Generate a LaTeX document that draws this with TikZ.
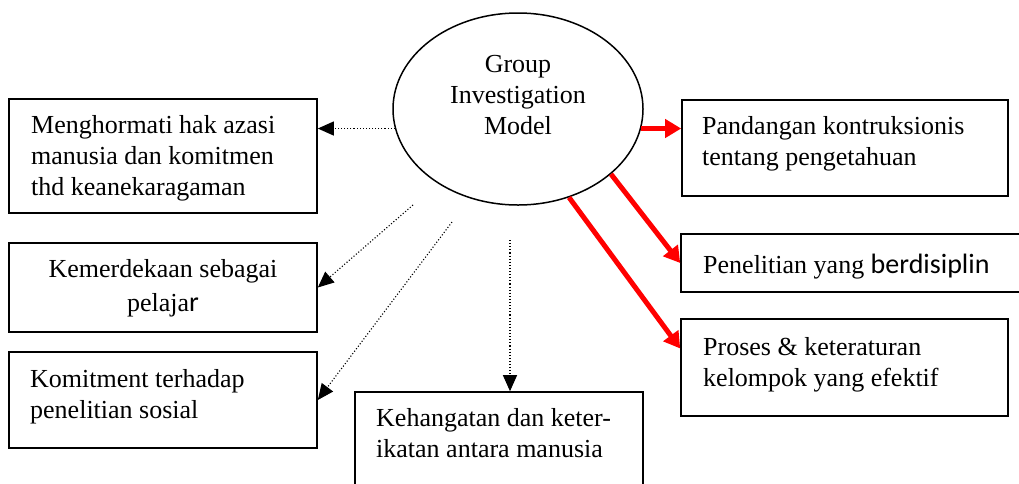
\documentclass[tikz,border=0pt]{standalone}
\usepackage{fontspec}
\setmainfont{Liberation Serif}
\newfontfamily\carlito{Carlito}
\usetikzlibrary{shapes.geometric,arrows.meta}
\tikzset{
  box/.style={draw, line width=1.6pt, rectangle, inner sep=0pt},
  oval/.style={draw, line width=1.5pt, ellipse, inner sep=0pt, minimum width=250pt, minimum height=192pt},
  txt/.style={inner sep=0pt, font=\fontsize{26}{31}\selectfont},
  dotarrow/.style={line width=1.1pt, dotted, -{Triangle[length=16pt,width=14pt]}},
  redarrow/.style={line width=5pt, red, -{Triangle[length=16pt,width=18pt]}}
}
\begin{document}
\begin{tikzpicture}[x=1pt,y=-1pt]
\useasboundingbox (0,0) rectangle (1019,483);
\clip (0,0) rectangle (1019,483);
\fill[white] (0,0) rectangle (1019,483);
% ellipse
\node[oval] (e) at (518,109) {};
\node[txt, anchor=north, align=center] (et) at (518,55) {Group\\Investigation\\Model};
% left boxes
\node[box, minimum width=308pt, minimum height=114pt] (b1) at (163,156) {};
\node[txt, anchor=north west, align=left] (t1) at (31,115) {Menghormati hak azasi\\manusia dan komitmen\\thd keanekaragaman};
\node[box, minimum width=308pt, minimum height=89pt] (b2) at (163,287.5) {};
\node[txt, anchor=north, align=center] (t2) at (163,259) {Kemerdekaan sebagai\\[3pt]pelaja{\carlito\fontsize{28}{31}\selectfont r}};
\node[box, minimum width=308pt, minimum height=96pt] (b3) at (163,400) {};
\node[txt, anchor=north west, align=left] (t3) at (30,369) {Komitment terhadap\\penelitian sosial};
\node[box, minimum width=288pt, minimum height=120pt] (b4) at (499,452) {};
\node[txt, anchor=north west, align=left] (t4) at (376,408) {Kehangatan dan keter-\\ikatan antara manusia};
% right boxes
\node[box, minimum width=326pt, minimum height=96pt] (r1) at (845,148) {};
\node[txt, anchor=north west, align=left] (u1) at (702,116) {Pandangan kontruksionis\\tentang pengetahuan};
\node[box, minimum width=350pt, minimum height=58pt] (r2) at (856,263) {};
\node[txt, anchor=base west] (u2) at (703,273) {Penelitian yang {\carlito\fontsize{28}{31}\selectfont berdisiplin}};
\node[box, minimum width=327pt, minimum height=97pt] (r3) at (844.5,367.5) {};
\node[txt, anchor=north west, align=left] (u3) at (703,337) {Proses \& keteraturan\\kelompok yang efektif};
% free start points
\coordinate (s2) at (413,205);
\coordinate (s3) at (452,222);
\coordinate (s4) at (510,240);
% dotted connectors
\draw[dotarrow] (e.189) -- (b1.east |- e.189);
\draw[dotarrow] (s2) -- (b2.east);
\draw[dotarrow] (s3) -- (b3.east);
\draw[dotarrow] (s4) -- (b4.north -| s4);
% red connectors
\draw[redarrow] (e.-9) -- (r1.west |- e.-9);
\draw[redarrow] (e.-35) -- (r2.west);
\draw[redarrow] (e.-60) -- ([yshift=19pt]r3.west);
\end{tikzpicture}
\end{document}
